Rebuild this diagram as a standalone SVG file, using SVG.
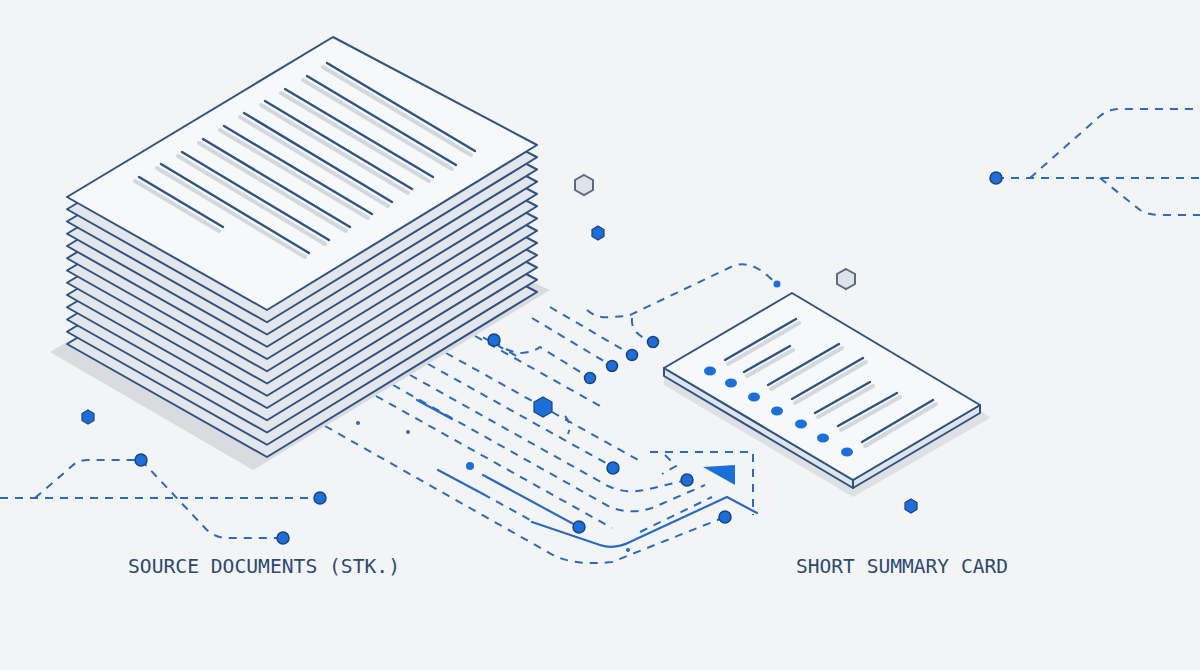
<svg xmlns="http://www.w3.org/2000/svg" width="1200" height="670" viewBox="0 0 1200 670">
<style>
.sheet{fill:#e3e6eb;stroke:#2d5382;stroke-width:2;stroke-linejoin:round}
.top{fill:#f7f8fa;stroke:#2d5382;stroke-width:2;stroke-linejoin:round}
.tl{stroke:#2d5382;stroke-width:2.4;stroke-linecap:round}
.ts{stroke:#d3d7de;stroke-width:4;stroke-linecap:round}
.d{fill:none;stroke:#2a6bc0;stroke-width:2;stroke-dasharray:8 7}
.s{fill:none;stroke:#2a6bc0;stroke-width:2.2;stroke-linecap:round}
.dot{fill:#1c6fd8;stroke:#1d4479;stroke-width:1.5}
.hexb{fill:#1c6fd8;stroke:#1d4479;stroke-width:1.2}
.hexg{fill:#dfe2e8;stroke:#5d6b80;stroke-width:2}
.lbl{font-family:"DejaVu Sans Mono","Liberation Mono",monospace;font-size:19px;fill:#2c4a6e}
</style>
<defs>
<polygon id="sh" points="333,37 537,145 267,310 67,197"/>
</defs>
<rect width="1200" height="670" fill="#f3f4f6"/>

<g id="connectors">
<path class="d" d="M0,498 H320"/>
<path class="d" d="M35,498 L72,466 Q78,460 88,460 H141"/>
<path class="d" d="M141,460 L205,528 Q214,538 228,538 H283"/>
<path class="d" d="M996,178 H1200"/>
<path class="d" d="M1030,178 L1100,116 Q1108,109 1120,109 H1200"/>
<path class="d" d="M1100,178 L1140,210 Q1148,215 1160,215 H1200"/>

<!-- upper bundle -->
<path class="d" d="M587,310 Q597,319 612,317 L628,316 L733,266 Q750,260 768,276 L777,284"/>
<path class="d" d="M632,318 Q630,334 653,342"/>
<path class="d" d="M550,307 L632,355"/>
<path class="d" d="M532,318 L612,366"/>
<path class="d" d="M494,340 Q505,352 522,353 Q534,352 540,347 L590,378"/>
<!-- lower bundle, slope 0.56 -->
<path class="d" d="M475,336 L600,406"/>
<path class="d" d="M470,330 L520,358"/>
<path class="d" d="M446,353 L534,402"/>
<path class="d" d="M552,412 L640,461"/>
<path class="d" d="M565,416 Q572,424 568,434"/>
<path class="d" d="M428,364 L613,467"/>
<path class="d" d="M410,375 L608,486 Q625,494 645,490 L687,480"/>
<path class="d" d="M393,385 L610,507 Q630,515 652,508 L705,485"/>
<path class="d" d="M376,396 L612,528"/>
<path class="s" d="M417,400 L452,419"/>
<path class="s" d="M483,475 L579,527"/>
<path class="s" d="M438,470 L483,494"/>
<path class="d" d="M483,494 L532,521"/>
<path class="s" d="M532,522 L600,545 Q615,550 632,541 L727,497 L757,513"/>
<path class="d" d="M325,426 L553,555 Q575,566 612,562 L725,517"/>
<path class="d" d="M640,532 L712,497"/>
<path class="d" d="M650,452 H753 V515"/>
<path class="d" d="M665,455 L676,466 L662,474"/>
<circle cx="358" cy="423" r="2" fill="#2a6bc0"/><circle cx="408" cy="432" r="2" fill="#2a6bc0"/>
<circle cx="628" cy="550" r="2" fill="#2a6bc0"/>
<polygon points="703,467 735,465 735,485" fill="#1c6fd8"/>
</g>

<g id="stack">
<polygon points="50,352 330,190 550,290 253,470" fill="#d9dbe0"/>
<use href="#sh" class="sheet" transform="translate(0,147)"/>
<use href="#sh" class="sheet" transform="translate(0,134.75)"/>
<use href="#sh" class="sheet" transform="translate(0,122.5)"/>
<use href="#sh" class="sheet" transform="translate(0,110.25)"/>
<use href="#sh" class="sheet" transform="translate(0,98)"/>
<use href="#sh" class="sheet" transform="translate(0,85.75)"/>
<use href="#sh" class="sheet" transform="translate(0,73.5)"/>
<use href="#sh" class="sheet" transform="translate(0,61.25)"/>
<use href="#sh" class="sheet" transform="translate(0,49)"/>
<use href="#sh" class="sheet" transform="translate(0,36.75)"/>
<use href="#sh" class="sheet" transform="translate(0,24.5)"/>
<use href="#sh" class="sheet" transform="translate(0,12.25)"/>
<use href="#sh" class="top"/>
<g transform="translate(-4,4)">
<line class="ts" x1="327" y1="63" x2="475" y2="151"/><line class="ts" x1="307" y1="76" x2="456" y2="165"/>
<line class="ts" x1="285" y1="89" x2="433" y2="177"/><line class="ts" x1="265" y1="101" x2="412" y2="189"/>
<line class="ts" x1="244" y1="113" x2="392" y2="202"/><line class="ts" x1="224" y1="126" x2="372" y2="214"/>
<line class="ts" x1="203" y1="139" x2="350" y2="227"/><line class="ts" x1="182" y1="152" x2="329" y2="240"/>
<line class="ts" x1="161" y1="164" x2="309" y2="253"/><line class="ts" x1="139" y1="177" x2="223" y2="227"/>
</g>
<line class="tl" x1="327" y1="63" x2="475" y2="151"/><line class="tl" x1="307" y1="76" x2="456" y2="165"/>
<line class="tl" x1="285" y1="89" x2="433" y2="177"/><line class="tl" x1="265" y1="101" x2="412" y2="189"/>
<line class="tl" x1="244" y1="113" x2="392" y2="202"/><line class="tl" x1="224" y1="126" x2="372" y2="214"/>
<line class="tl" x1="203" y1="139" x2="350" y2="227"/><line class="tl" x1="182" y1="152" x2="329" y2="240"/>
<line class="tl" x1="161" y1="164" x2="309" y2="253"/><line class="tl" x1="139" y1="177" x2="223" y2="227"/>
</g>

<g id="card">
<polygon points="664,385 853,497 990,418 980,410 853,487 664,375" fill="#d9dbe0" opacity="0.8"/>
<polygon points="664,368 853,480 853,488 664,376" fill="#dfe3ea" stroke="#2d5382" stroke-width="2" stroke-linejoin="round"/>
<polygon points="853,480 980,405 980,413 853,488" fill="#dfe3ea" stroke="#2d5382" stroke-width="2" stroke-linejoin="round"/>
<polygon points="792,293 980,405 853,480 664,368" class="top"/>
<g transform="translate(3,4)" class="ts" stroke-width="3">
<line x1="725" y1="360" x2="796" y2="319"/><line x1="744" y1="372" x2="790" y2="346"/>
<line x1="768" y1="385" x2="839" y2="344"/><line x1="792" y1="399" x2="863" y2="358"/>
<line x1="815" y1="413" x2="870" y2="382"/><line x1="838" y1="426" x2="897" y2="393"/>
<line x1="862" y1="442" x2="933" y2="400"/>
</g>
<g class="tl" stroke-width="2">
<line x1="725" y1="360" x2="796" y2="319"/><line x1="744" y1="372" x2="790" y2="346"/>
<line x1="768" y1="385" x2="839" y2="344"/><line x1="792" y1="399" x2="863" y2="358"/>
<line x1="815" y1="413" x2="870" y2="382"/><line x1="838" y1="426" x2="897" y2="393"/>
<line x1="862" y1="442" x2="933" y2="400"/>
</g>
<g fill="#1c6fd8">
<ellipse cx="710" cy="371" rx="6" ry="4.5"/><ellipse cx="731" cy="383" rx="6" ry="4.5"/>
<ellipse cx="754" cy="397" rx="6" ry="4.5"/><ellipse cx="777" cy="411" rx="6" ry="4.5"/>
<ellipse cx="801" cy="424" rx="6" ry="4.5"/><ellipse cx="823" cy="438" rx="6" ry="4.5"/>
<ellipse cx="847" cy="452" rx="6" ry="4.5"/>
</g>
</g>

<g id="dots">
<circle class="dot" cx="141" cy="460" r="6"/><circle class="dot" cx="320" cy="498" r="6"/>
<circle class="dot" cx="283" cy="538" r="6"/><circle class="dot" cx="996" cy="178" r="6"/>
<circle class="dot" cx="494" cy="340" r="6"/><circle class="dot" cx="590" cy="378" r="5.5"/>
<circle class="dot" cx="612" cy="366" r="5.5"/><circle class="dot" cx="632" cy="355" r="5.5"/>
<circle class="dot" cx="653" cy="342" r="5.5"/><circle class="dot" cx="613" cy="468" r="6"/>
<circle class="dot" cx="687" cy="480" r="6"/><circle class="dot" cx="725" cy="517" r="6"/>
<circle class="dot" cx="579" cy="527" r="6"/>
<circle cx="470" cy="466" r="4" fill="#1c6fd8"/><circle cx="777" cy="284" r="3.5" fill="#1c6fd8"/>
<polygon class="hexb" points="543,397 552,402 552,412 543,417 534,412 534,402"/>
<polygon class="hexb" points="598,226 604,229.5 604,236.5 598,240 592,236.5 592,229.5"/>
<polygon class="hexb" points="88,410 94,413.5 94,420.5 88,424 82,420.5 82,413.5"/>
<polygon class="hexb" points="911,499 917,502.5 917,509.5 911,513 905,509.5 905,502.5"/>
<polygon class="hexg" points="584,175 593,180 593,190 584,195 575,190 575,180"/>
<polygon class="hexg" points="846,269 855,274 855,284 846,289 837,284 837,274"/>
</g>

<g id="labels">
<text class="lbl" x="128" y="573" textLength="272" lengthAdjust="spacingAndGlyphs">SOURCE DOCUMENTS (STK.)</text>
<text class="lbl" x="796" y="573" textLength="212" lengthAdjust="spacingAndGlyphs">SHORT SUMMARY CARD</text>
</g>
</svg>
